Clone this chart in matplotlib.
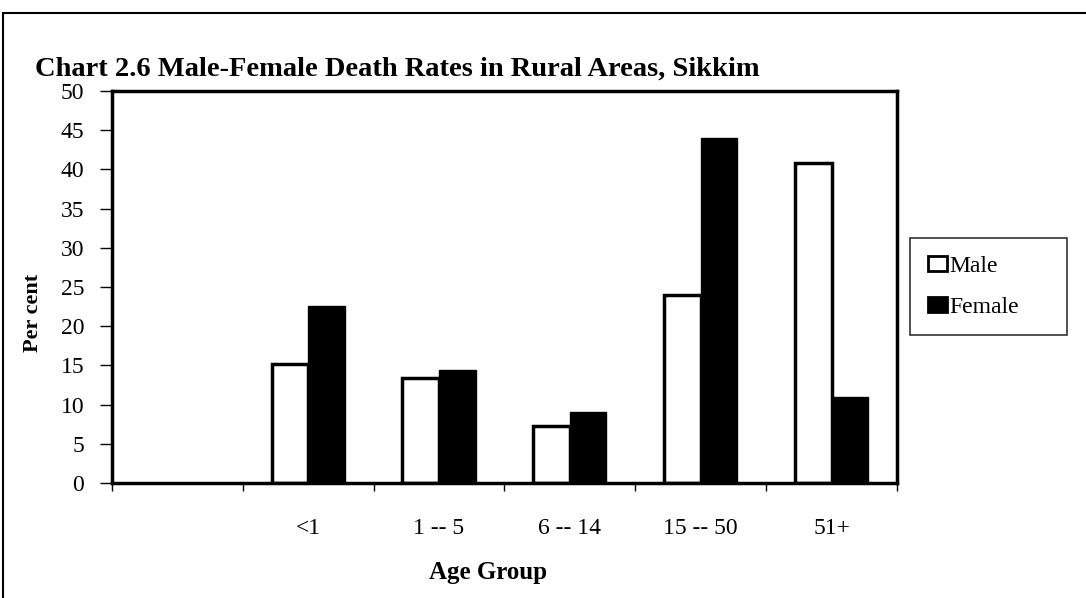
import matplotlib
matplotlib.use('Agg')
import matplotlib.pyplot as plt
import numpy as np
from matplotlib.patches import Rectangle

# Data (first category on the axis is empty)
age_groups = ['', '<1', '1 -- 5', '6 -- 14', '15 -- 50', '51+']
male = [15.2, 13.4, 7.3, 24.0, 40.8]
female = [22.6, 14.4, 9.1, 44.0, 11.0]

plt.rcParams['font.family'] = 'Liberation Serif'

fig = plt.figure(figsize=(10.86, 5.98), dpi=100)
ax = fig.add_axes([0.1031, 0.1923, 0.7228, 0.6555])

x = np.arange(len(age_groups))
xb = x[1:]
w = 0.28
ax.bar(xb - w / 2, male, w, color='white', edgecolor='black', linewidth=2.5, label='Male')
ax.bar(xb + w / 2, female, w, color='black', edgecolor='black', linewidth=1, label='Female')

ax.set_xlim(-0.5, len(age_groups) - 0.5)
ax.set_ylim(0, 50)
ax.set_yticks(range(0, 51, 5))

# labels at category centres, tick marks at category edges
ax.set_xticks(x)
ax.set_xticklabels(age_groups, fontsize=17)
ax.set_xticks(np.arange(-0.5, len(age_groups)), minor=True)
ax.tick_params(axis='x', which='major', length=0, pad=25)
ax.tick_params(axis='x', which='minor', length=6, width=1, direction='out')
ax.tick_params(axis='y', length=9, width=1, direction='out', labelsize=17, pad=11)

for s in ax.spines.values():
    s.set_linewidth(2.5)

fig.text(0.449, 0.042, 'Age Group', fontsize=18, fontweight='bold',
         ha='center', va='center')
fig.text(0.030, 0.477, 'Per cent', rotation=90, fontsize=16, fontweight='bold',
         ha='center', va='center')

fig.text(0.032, 0.873, 'Chart 2.6 Male-Female Death Rates in Rural Areas, Sikkim',
         fontsize=20.5, fontweight='bold', ha='left', va='baseline')

leg = fig.legend(loc='upper left', mode='expand',
                 bbox_to_anchor=(910 / 1086, 1 - 238 / 598 - 0.01, 157 / 1086, 0.01),
                 fontsize=17, frameon=True, fancybox=False, edgecolor='black',
                 handlelength=0.8, handleheight=0.6, handletextpad=0.1,
                 borderpad=0.75, labelspacing=0.85, borderaxespad=0)
leg.get_frame().set_linewidth(1.2)
for h in leg.legend_handles:
    h.set_linewidth(2)
    h.set_edgecolor('black')

# outer border of the chart area
fig.patches.append(Rectangle((0.003, -0.01), 1.2, 0.988, transform=fig.transFigure,
                             fill=False, edgecolor='black', linewidth=1.5))

fig.savefig('out.png', dpi=100)
